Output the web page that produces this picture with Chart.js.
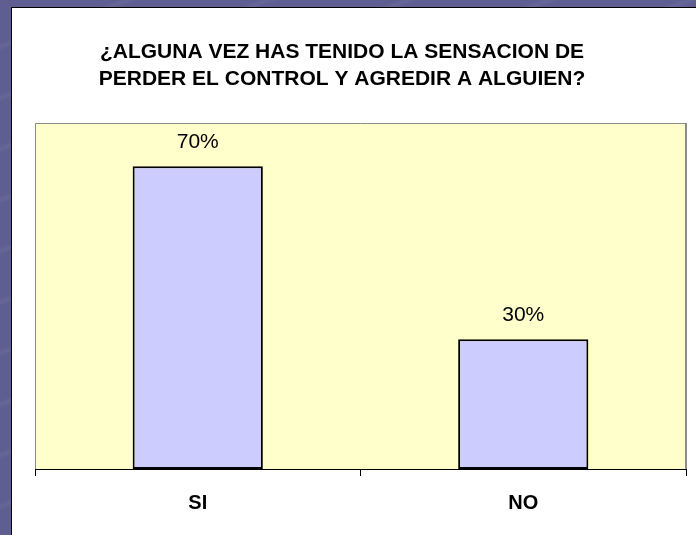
<!DOCTYPE html>
<html>
<head>
<meta charset="utf-8">
<script src="https://cdn.jsdelivr.net/npm/chart.js@4.4.0/dist/chart.umd.min.js"></script>
<style>
	html, body { margin: 0; padding: 0; }
	body {
		width: 696px; height: 535px; overflow: hidden; position: relative;
		background-color: #5e5e93;
		background-image: repeating-linear-gradient(160deg, rgba(255,255,255,0.0) 0px, rgba(255,255,255,0.0) 40px, rgba(255,255,255,0.05) 44px, rgba(255,255,255,0.0) 48px);
	}
	#panel {
		position: absolute; left: 11px; top: 7px; right: 0; bottom: 0;
		background: #fff; border-left: 1px solid #000; border-top: 1px solid #000;
	}
	#wrap { position: absolute; left: 0; top: 0; width: 696px; height: 535px; }
</style>
</head>
<body>
<div id="panel"></div>
<div id="wrap"><canvas id="bar"></canvas></div>
<script>
var categories = ["SI", "NO"];
var values = [70, 30];
var valueLabels = ["70%", "30%"];
var titleLines = ["¿ALGUNA VEZ HAS TENIDO LA SENSACION DE", "PERDER EL CONTROL Y AGREDIR A ALGUIEN?"];

var FONT = "'Liberation Sans', Arial, sans-serif";

// yellow plot area with gray frame, title and value labels
var decor = {
	id: 'decor',
	beforeDraw: function(chart) {
		var ctx = chart.ctx, a = chart.chartArea;
		ctx.save();
		ctx.fillStyle = '#ffffcc';
		ctx.fillRect(a.left, a.top, a.right - a.left, a.bottom - a.top);
		ctx.strokeStyle = '#8c8c8c';
		ctx.lineWidth = 1;
		ctx.beginPath();
		ctx.moveTo(a.left + 0.5, a.bottom);
		ctx.lineTo(a.left + 0.5, a.top + 0.5);
		ctx.lineTo(a.right - 0.5, a.top + 0.5);
		ctx.stroke();
		ctx.lineWidth = 2;
		ctx.beginPath();
		ctx.moveTo(a.right, a.top);
		ctx.lineTo(a.right, a.bottom);
		ctx.stroke();
		ctx.restore();
	},
	afterDatasetsDraw: function(chart) {
		var ctx = chart.ctx;
		ctx.save();
		ctx.fillStyle = '#000';
		ctx.textAlign = 'center';
		ctx.textBaseline = 'alphabetic';
		ctx.font = 'bold 21px ' + FONT;
		ctx.fillText(titleLines[0], 342, 58);
		ctx.fillText(titleLines[1], 342, 85);
		ctx.font = '21px ' + FONT;
		chart.getDatasetMeta(0).data.forEach(function(bar, i) {
			ctx.fillText(valueLabels[i], bar.x, bar.y - 18);
		});
		ctx.restore();
	}
};

var config = {
	type: 'bar',
	data: {
		labels: categories,
		datasets: [{
			data: values,
			backgroundColor: '#ccccff',
			borderColor: '#000',
			borderWidth: 2,
			borderSkipped: false,
			barPercentage: 0.4,
			categoryPercentage: 1.0
		}]
	},
	options: {
		responsive: false,
		animation: false,
		layout: { padding: { left: 35, right: 10, top: 123, bottom: 0 } },
		plugins: {
			legend: { display: false },
			title: { display: false },
			tooltip: { enabled: false }
		},
		scales: {
			x: {
				offset: true,
				grid: { display: true, drawOnChartArea: false, drawTicks: true, tickLength: 7, color: '#000' },
				border: { display: true, color: '#000', width: 1 },
				ticks: { color: '#000', padding: 15, font: { family: FONT, size: 20, weight: 'bold' } },
				afterFit: function(scale) { scale.height = 66; }
			},
			y: {
				display: false,
				min: 0,
				max: 80
			}
		}
	},
	plugins: [decor]
};

window.onload = function() {
	var c = document.getElementById('bar');
	c.width = 696; c.height = 535;
	window.myBar = new Chart(c, config);
};
</script>
</body>
</html>
